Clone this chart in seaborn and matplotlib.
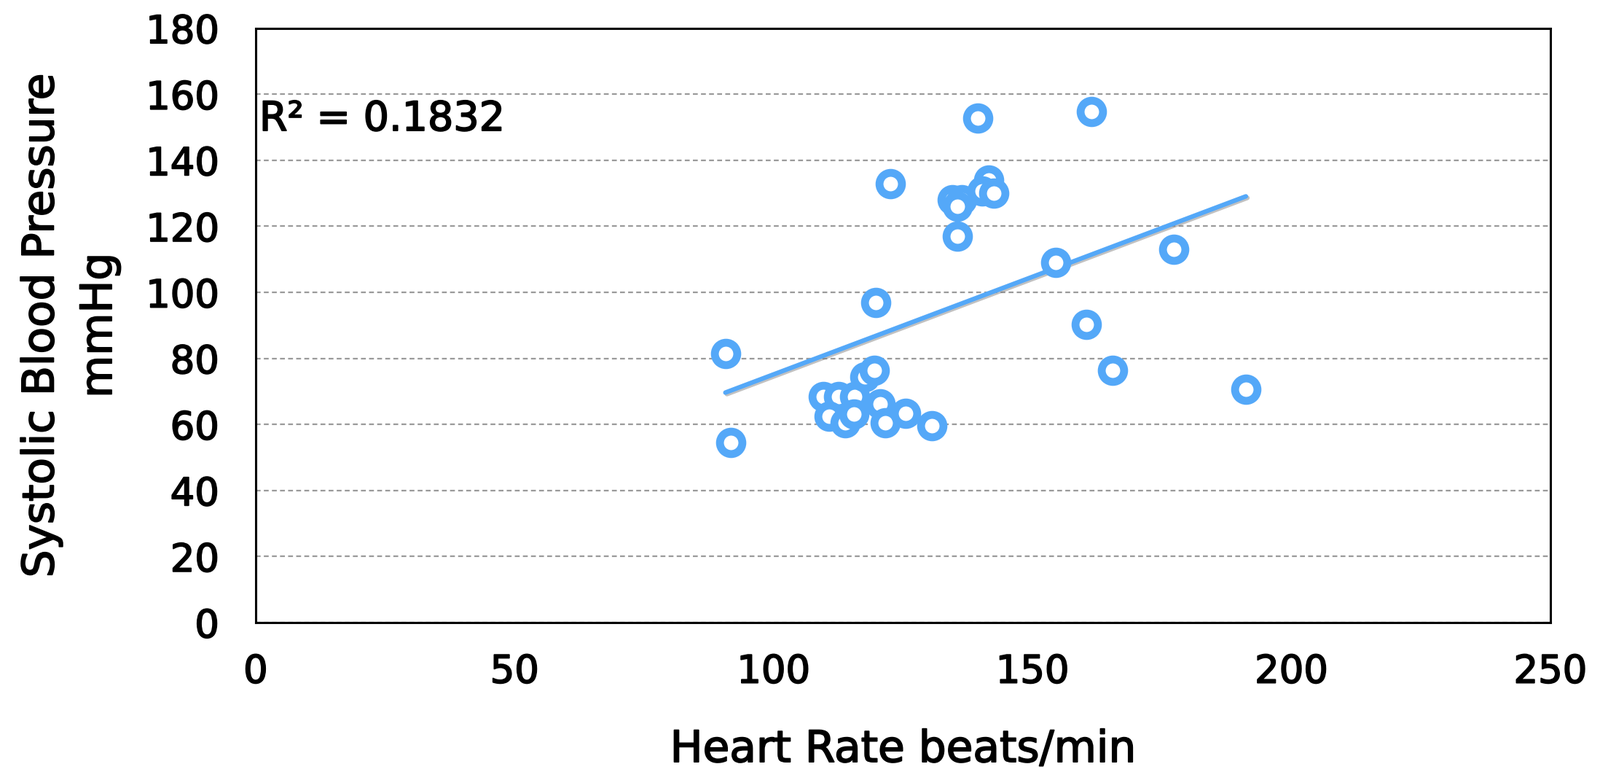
import matplotlib
matplotlib.use("Agg")
import matplotlib.pyplot as plt
import matplotlib.patheffects as pe
import seaborn as sns
import pandas as pd

# values
heart_rate = [90.7, 91.7, 109.6, 112.6, 115.7, 110.8, 113.8, 115.5, 117.6, 119.5,
              120.6, 121.6, 125.5, 130.5, 122.6, 134.5, 136.3, 135.5, 141.5, 140.3,
              142.5, 135.5, 161.4, 154.5, 177.3, 160.4, 165.4, 191.2, 139.5, 119.7]
systolic_bp = [81.4, 54.5, 68.5, 68.5, 68.5, 62.4, 60.4, 63.1, 74.4, 76.4,
               66.3, 60.4, 63.4, 59.5, 132.8, 128.0, 128.0, 126.1, 134.1, 130.6,
               130.0, 117.0, 154.7, 109.1, 113.1, 90.2, 76.4, 70.7, 152.8, 96.9]
r_squared = 0.1832
x_ticks = [0, 50, 100, 150, 200, 250]
y_ticks = [0, 20, 40, 60, 80, 100, 120, 140, 160, 180]

df = pd.DataFrame({"hr": heart_rate, "sbp": systolic_bp})

BLUE = "#54A8F8"
# slightly heavier strokes on the text, the original uses a thick hand-drawn face
heavy = [pe.withStroke(linewidth=1.3, foreground="black")]

sns.set_theme(style="white")
plt.rcParams["font.family"] = ["DejaVu Sans"]

fig = plt.figure(figsize=(21.96, 10.59), dpi=100)
ax = fig.add_axes([0.1598, 0.1936, 0.9690 - 0.1598, 0.9635 - 0.1936])

# dashed horizontal grid
ax.set_axisbelow(True)
ax.yaxis.grid(True, color="#9a9a9a", linestyle=(0, (3, 2)), linewidth=1.6)
ax.xaxis.grid(False)

# trend line with a soft shadow
sns.regplot(data=df, x="hr", y="sbp", scatter=False, ci=None, ax=ax,
            line_kws={"color": BLUE, "linewidth": 4.5, "zorder": 3,
                      "path_effects": [pe.SimpleLineShadow(offset=(1.5, -1.5),
                                                           shadow_color="#777777",
                                                           alpha=0.45),
                                       pe.Normal()]})

# open ring markers
sns.scatterplot(data=df, x="hr", y="sbp", ax=ax, s=490, marker="o",
                facecolor="white", edgecolor=BLUE, linewidth=7.8, zorder=4)

ax.set_xlim(0, 250)
ax.set_ylim(0, 180)
ax.set_xticks(x_ticks)
ax.set_yticks(y_ticks)
ax.tick_params(axis="both", length=0, labelsize=38, colors="black")
ax.tick_params(axis="x", pad=30)
ax.tick_params(axis="y", pad=36)
for lbl in ax.get_xticklabels() + ax.get_yticklabels():
    lbl.set_path_effects(heavy)

for side in ["left", "right", "top", "bottom"]:
    ax.spines[side].set_visible(True)
    ax.spines[side].set_color("black")
    ax.spines[side].set_linewidth(2.2)

ax.set_xlabel("Heart Rate beats/min", fontsize=43, color="black",
              path_effects=heavy)
ax.set_ylabel("Systolic Blood Pressure\nmmHg", fontsize=43, color="black",
              linespacing=1.45, path_effects=heavy)
ax.xaxis.set_label_coords(0.5, -0.178)
ax.yaxis.set_label_coords(-0.104, 0.5)

ax.text(0.7, 149, f"R\u00b2 = {r_squared:.4f}", fontsize=40, color="black",
        ha="left", va="baseline", zorder=5, path_effects=heavy)

fig.savefig("out.png", dpi=100)
